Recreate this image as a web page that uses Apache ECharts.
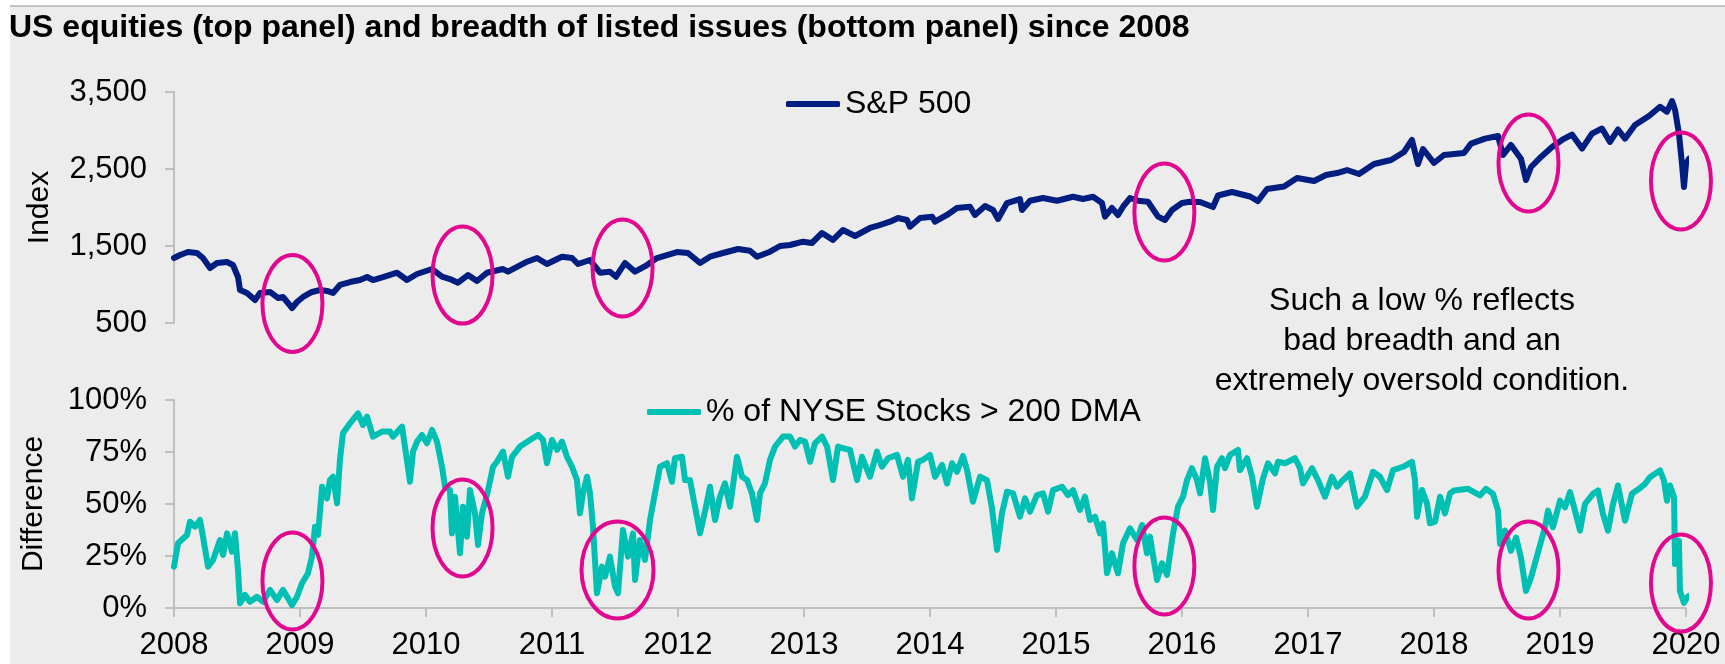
<!DOCTYPE html>
<html>
<head>
<meta charset="utf-8">
<script src="https://cdn.jsdelivr.net/npm/echarts@6/dist/echarts.min.js"></script>
<style>
html,body{margin:0;padding:0;background:#ffffff;}
#c{width:1725px;height:664px;}
</style>
</head>
<body>
<div id="c"></div>
<script>
// ---------- DATA ----------
const chartTitle = 'US equities (top panel) and breadth of listed issues (bottom panel) since 2008';
const spxName = 'S&P 500';
const breadthName = '% of NYSE Stocks > 200 DMA';
const topAxisName = 'Index';
const bottomAxisName = 'Difference';
const yearTicks = [2008, 2009, 2010, 2011, 2012, 2013, 2014, 2015, 2016, 2017, 2018, 2019, 2020];
const indexTicks = [500, 1500, 2500, 3500];
const pctTicks = [0, 25, 50, 75, 100];
const noteLines = ['Such a low % reflects', 'bad breadth and an', 'extremely oversold condition.'];

// S&P 500 (date as fractional year, index level)
const spxDates = [
2008.000,2008.048,2008.111,2008.183,2008.230,2008.286,2008.341,2008.421,2008.468,2008.508,
2008.524,2008.579,2008.643,2008.683,2008.762,2008.825,2008.865,2008.937,2008.976,2009.024,
2009.095,2009.159,2009.214,2009.262,2009.317,2009.397,2009.476,2009.532,2009.579,2009.659,
2009.770,2009.849,2009.929,2010.048,2010.127,2010.190,2010.254,2010.333,2010.405,2010.484,
2010.611,2010.651,2010.802,2010.881,2010.960,2011.079,2011.159,2011.206,2011.302,2011.381,
2011.460,2011.508,2011.579,2011.659,2011.754,2011.833,2011.992,2012.079,2012.175,2012.254,
2012.357,2012.476,2012.571,2012.627,2012.730,2012.810,2012.889,2012.992,2013.063,2013.143,
2013.230,2013.310,2013.405,2013.524,2013.579,2013.683,2013.746,2013.817,2013.841,2013.921,
2014.016,2014.040,2014.135,2014.214,2014.317,2014.357,2014.437,2014.500,2014.540,2014.611,
2014.714,2014.730,2014.794,2014.897,2015.008,2015.135,2015.214,2015.294,2015.365,2015.389,
2015.444,2015.492,2015.532,2015.587,2015.651,2015.730,2015.810,2015.865,2015.921,2016.000,
2016.063,2016.143,2016.246,2016.286,2016.397,2016.540,2016.603,2016.675,2016.810,2016.913,
2017.048,2017.143,2017.230,2017.310,2017.405,2017.524,2017.659,2017.762,2017.825,2017.873,
2017.913,2018.000,2018.079,2018.159,2018.238,2018.294,2018.405,2018.508,2018.548,2018.611,
2018.690,2018.730,2018.770,2018.849,2018.937,2019.016,2019.095,2019.175,2019.254,2019.333,
2019.397,2019.460,2019.516,2019.595,2019.706,2019.794,2019.849,2019.889,2019.913,2019.944,
2019.968,2019.984,2020.000,2020.024
];
const spxValues = [
1344,1383,1422,1409,1344,1214,1279,1292,1253,1097,
929,890,799,890,903,825,838,695,773,838,
903,929,916,890,994,1032,1058,1097,1058,1097,
1153,1058,1136,1201,1101,1071,1023,1123,1045,1153,
1201,1166,1296,1344,1266,1361,1344,1266,1318,1153,
1166,1101,1279,1166,1253,1344,1422,1409,1279,1361,
1409,1461,1439,1361,1426,1500,1513,1556,1539,1669,
1578,1708,1630,1734,1760,1816,1864,1838,1751,1864,
1881,1816,1903,1994,2010,1903,2019,1968,1851,2058,
2110,1968,2088,2123,2088,2140,2110,2140,2058,1881,
1994,1903,2010,2123,2088,2075,1881,1838,1968,2058,
2075,2071,2006,2156,2201,2143,2084,2240,2273,2383,
2344,2422,2448,2487,2435,2565,2617,2721,2877,2565,
2760,2578,2682,2695,2708,2829,2894,2928,2682,2812,
2634,2357,2526,2656,2786,2877,2947,2765,2960,3026,
2851,3013,2894,3071,3188,3308,3243,3383,3266,2960,
2569,2266,2569,2634
];

// % of NYSE stocks above 200-day moving average
const breadthDates = [
2008.000,2008.032,2008.103,2008.127,2008.167,2008.206,2008.230,2008.270,2008.310,2008.365,
2008.389,2008.421,2008.460,2008.484,2008.508,2008.524,2008.563,2008.603,2008.659,2008.706,
2008.762,2008.817,2008.865,2008.937,2008.976,2009.016,2009.063,2009.095,2009.119,2009.143,
2009.175,2009.214,2009.238,2009.262,2009.294,2009.317,2009.341,2009.397,2009.460,2009.500,
2009.532,2009.579,2009.651,2009.714,2009.738,2009.810,2009.833,2009.873,2009.897,2009.929,
2009.968,2010.008,2010.048,2010.087,2010.127,2010.151,2010.190,2010.206,2010.230,2010.270,
2010.294,2010.325,2010.349,2010.389,2010.413,2010.444,2010.484,2010.532,2010.563,2010.611,
2010.651,2010.683,2010.746,2010.825,2010.889,2010.929,2010.960,2011.000,2011.040,2011.079,
2011.119,2011.159,2011.198,2011.222,2011.246,2011.278,2011.302,2011.325,2011.357,2011.397,
2011.421,2011.460,2011.500,2011.524,2011.563,2011.603,2011.643,2011.659,2011.698,2011.738,
2011.778,2011.817,2011.857,2011.913,2011.952,2011.976,2012.032,2012.056,2012.095,2012.135,
2012.175,2012.214,2012.254,2012.294,2012.333,2012.373,2012.413,2012.468,2012.508,2012.548,
2012.587,2012.627,2012.651,2012.690,2012.730,2012.770,2012.833,2012.889,2012.929,2012.968,
2013.008,2013.048,2013.087,2013.143,2013.183,2013.230,2013.270,2013.310,2013.365,2013.421,
2013.460,2013.524,2013.579,2013.619,2013.667,2013.738,2013.786,2013.825,2013.857,2013.905,
2013.944,2014.000,2014.040,2014.095,2014.135,2014.175,2014.214,2014.262,2014.294,2014.341,
2014.397,2014.452,2014.492,2014.532,2014.571,2014.611,2014.659,2014.714,2014.754,2014.794,
2014.849,2014.897,2014.937,2014.976,2015.048,2015.095,2015.135,2015.190,2015.230,2015.270,
2015.310,2015.349,2015.373,2015.405,2015.444,2015.492,2015.532,2015.587,2015.643,2015.683,
2015.722,2015.746,2015.802,2015.841,2015.881,2015.929,2015.968,2016.008,2016.040,2016.079,
2016.119,2016.143,2016.183,2016.222,2016.246,2016.278,2016.317,2016.341,2016.381,2016.444,
2016.460,2016.516,2016.556,2016.595,2016.643,2016.683,2016.738,2016.762,2016.817,2016.897,
2016.937,2016.960,2017.032,2017.079,2017.135,2017.190,2017.230,2017.278,2017.333,2017.389,
2017.452,2017.516,2017.571,2017.627,2017.675,2017.754,2017.825,2017.849,2017.865,2017.905,
2017.944,2017.968,2018.008,2018.048,2018.087,2018.127,2018.159,2018.270,2018.365,2018.413,
2018.468,2018.508,2018.524,2018.563,2018.611,2018.651,2018.690,2018.730,2018.770,2018.825,
2018.881,2018.905,2018.944,2019.000,2019.040,2019.079,2019.119,2019.159,2019.198,2019.262,
2019.302,2019.341,2019.381,2019.421,2019.460,2019.516,2019.571,2019.627,2019.675,2019.714,
2019.754,2019.794,2019.825,2019.849,2019.873,2019.905,2019.913,2019.944,2019.952,2019.984,
2020.008,2020.024
];
const breadthValues = [
19.9,31.1,35.1,41.5,39.1,42.3,34.3,19.9,23.1,32.7,
25.5,35.9,27.1,35.9,18.3,2.3,6.3,3.0,5.4,3.0,
8.7,3.8,8.7,1.4,5.4,11.9,16.7,24.7,39.1,35.1,
58.3,52.7,61.5,63.1,50.3,71.2,84.0,88.8,93.6,88.0,
92.0,82.4,84.8,84.8,82.4,87.2,77.6,60.7,75.2,80.0,
83.2,79.2,85.6,80.0,67.9,58.3,56.7,35.9,53.5,26.3,
48.7,34.3,56.7,45.5,30.3,45.5,54.3,67.9,70.3,75.2,
63.1,72.7,77.6,80.8,83.2,80.8,69.6,80.8,76.0,80.0,
72.7,67.9,61.5,45.5,55.1,63.1,55.1,39.1,7.1,19.9,
15.1,24.7,10.3,7.1,37.5,24.7,35.9,13.5,32.7,23.1,
42.3,55.1,67.9,69.6,60.7,72.0,72.7,61.5,61.5,48.7,
35.9,46.3,58.3,42.3,53.5,59.9,48.7,72.7,63.1,61.5,
55.1,42.3,55.1,59.9,71.2,77.6,82.4,82.4,77.6,80.8,
80.0,70.3,79.2,82.4,77.6,61.5,77.6,76.8,76.0,61.5,
72.7,63.1,75.2,67.9,72.0,73.6,63.1,71.2,52.7,70.3,
71.2,73.6,63.1,68.8,59.9,69.6,65.5,73.1,66.3,51.1,
63.1,61.5,47.9,27.9,45.5,55.9,55.1,43.9,52.7,46.3,
54.3,55.1,46.3,56.7,58.3,54.3,56.7,47.1,53.5,42.3,
43.9,35.9,40.7,16.7,26.3,16.7,31.1,38.3,32.7,39.9,
26.3,34.3,13.5,21.5,15.9,35.9,48.7,53.5,61.5,67.2,
61.5,55.1,72.0,60.7,47.1,67.9,72.0,67.2,73.6,76.0,
66.3,72.0,63.1,48.7,62.3,69.6,64.7,70.3,69.6,72.0,
67.2,59.9,67.2,61.5,53.5,63.1,58.3,61.5,64.7,48.7,
53.5,65.5,63.1,56.7,66.3,67.9,70.3,61.5,43.9,56.7,
50.3,40.7,41.5,53.5,45.5,55.1,56.5,57.3,54.1,57.3,
54.9,46.8,30.8,37.2,27.5,33.9,24.3,8.2,14.6,26.7,
38.8,46.8,38.8,51.6,48.4,55.7,46.8,37.2,50.0,54.9,
56.5,45.2,37.2,50.0,58.9,42.0,54.9,57.3,59.7,62.9,
64.5,66.1,61.3,51.6,58.9,53.3,21.1,32.4,8.2,2.5,
5.0,5.8
];

// Highlight ellipses (data coordinates of centre)
const circleDates = [2008.94, 2010.29, 2011.56, 2015.86, 2018.75, 2019.96];
const circleTopValues = [753, 1123, 1214, 1942, 2578, 2344];
const circleBottomDates = [2008.94, 2010.29, 2011.52, 2015.86, 2018.75, 2019.96];
const circleBottomValues = [13.0, 38.5, 18.3, 20.2, 18.3, 12.0];

// ---------- CHART ----------
const FONT = '"Liberation Sans", Arial, sans-serif';
const AXIS_GREY = '#bfbfbf';
const NAVY = '#001e80';
const TEAL = '#00c0b4';
const MAGENTA = '#e2078f';

const spxData = spxDates.map((d, i) => [d, spxValues[i]]);
const breadthData = breadthDates.map((d, i) => [d, breadthValues[i]]);

const chart = echarts.init(document.getElementById('c'), null, {renderer: 'canvas'});

const axisLineStyle = {show: true, lineStyle: {color: AXIS_GREY, width: 2}};
const axisTickStyle = {show: true, length: 9, lineStyle: {color: AXIS_GREY, width: 2}};

const option = {
  animation: false,
  backgroundColor: '#ffffff',
  textStyle: {fontFamily: FONT},
  title: {
    text: chartTitle, left: 9, top: 12, padding: 0,
    textStyle: {fontSize: 32, fontWeight: 'bold', color: '#000', fontFamily: FONT}
  },
  legend: [
    {data: [spxName], left: 786, top: 88, padding: 0, icon: 'roundRect', itemWidth: 54, itemHeight: 6,
     textStyle: {fontSize: 32, color: '#000', fontFamily: FONT}},
    {data: [breadthName], left: 647, top: 396, padding: 0, icon: 'roundRect', itemWidth: 54, itemHeight: 6,
     textStyle: {fontSize: 32, color: '#000', fontFamily: FONT}}
  ],
  grid: [
    {left: 174, right: 39, top: 92, height: 231},
    {left: 174, right: 39, top: 400, height: 208}
  ],
  xAxis: [
    {gridIndex: 0, type: 'value', min: yearTicks[0], max: yearTicks[yearTicks.length - 1], show: false},
    {gridIndex: 1, type: 'value', min: yearTicks[0], max: yearTicks[yearTicks.length - 1], interval: 1,
     axisLine: axisLineStyle, axisTick: axisTickStyle, splitLine: {show: false},
     axisLabel: {fontSize: 31, color: '#000', margin: 22, fontFamily: FONT, formatter: v => String(v)}}
  ],
  yAxis: [
    {gridIndex: 0, type: 'value', min: indexTicks[0], max: indexTicks[indexTicks.length - 1],
     name: topAxisName, nameLocation: 'middle', nameGap: 119,
     nameTextStyle: {fontSize: 30, color: '#000', fontFamily: FONT},
     axisLine: axisLineStyle,
     axisTick: Object.assign({customValues: indexTicks}, axisTickStyle),
     splitLine: {show: false},
     axisLabel: {customValues: indexTicks, fontSize: 31, color: '#000', margin: 27, fontFamily: FONT,
                 formatter: v => v.toLocaleString('en-US')}},
    {gridIndex: 1, type: 'value', min: pctTicks[0], max: pctTicks[pctTicks.length - 1], interval: 25,
     name: bottomAxisName, nameLocation: 'middle', nameGap: 125,
     nameTextStyle: {fontSize: 30, color: '#000', fontFamily: FONT},
     axisLine: axisLineStyle, axisTick: axisTickStyle, splitLine: {show: false},
     axisLabel: {fontSize: 31, color: '#000', margin: 27, fontFamily: FONT, formatter: v => v + '%'}}
  ],
  series: [
    {name: spxName, type: 'line', xAxisIndex: 0, yAxisIndex: 0, data: spxData, symbol: 'none',
     clip: false, lineStyle: {color: NAVY, width: 6, join: 'round', cap: 'round'}, itemStyle: {color: NAVY}, z: 3},
    {name: breadthName, type: 'line', xAxisIndex: 1, yAxisIndex: 1, data: breadthData, symbol: 'none',
     clip: false, lineStyle: {color: TEAL, width: 6, join: 'round', cap: 'round'}, itemStyle: {color: TEAL}, z: 3}
  ]
};

chart.setOption(option);

// Graphics: background panel, highlight ellipses, annotation
const gfx = [
  {type: 'rect', z: -10, silent: true, shape: {x: 10, y: 6, width: 1715, height: 658}, style: {fill: '#ececec'}},
  {type: 'line', z: -9, silent: true, shape: {x1: 10, y1: 6, x2: 1725, y2: 6}, style: {stroke: '#b4b4b4', lineWidth: 1.5}}
];
const topRx = [30, 30, 30, 30, 30, 30];
const botRx = [30, 30, 36, 30, 30, 30];
circleDates.forEach((d, i) => {
  const p = chart.convertToPixel({gridIndex: 0}, [d, circleTopValues[i]]);
  gfx.push({type: 'ellipse', z: 20, silent: true, shape: {cx: p[0], cy: p[1], rx: topRx[i], ry: 48.5},
            style: {fill: 'none', stroke: MAGENTA, lineWidth: 4}});
  const q = chart.convertToPixel({gridIndex: 1}, [circleBottomDates[i], circleBottomValues[i]]);
  gfx.push({type: 'ellipse', z: 20, silent: true, shape: {cx: q[0], cy: q[1], rx: botRx[i], ry: 48.5},
            style: {fill: 'none', stroke: MAGENTA, lineWidth: 4}});
});
noteLines.forEach((t, i) => {
  gfx.push({type: 'text', z: 20, silent: true, x: 1422, y: 301 + i * 40,
            style: {text: t, fontSize: 32, fontFamily: FONT, fill: '#000', align: 'center', verticalAlign: 'middle'}});
});
chart.setOption({graphic: gfx});
</script>
</body>
</html>
